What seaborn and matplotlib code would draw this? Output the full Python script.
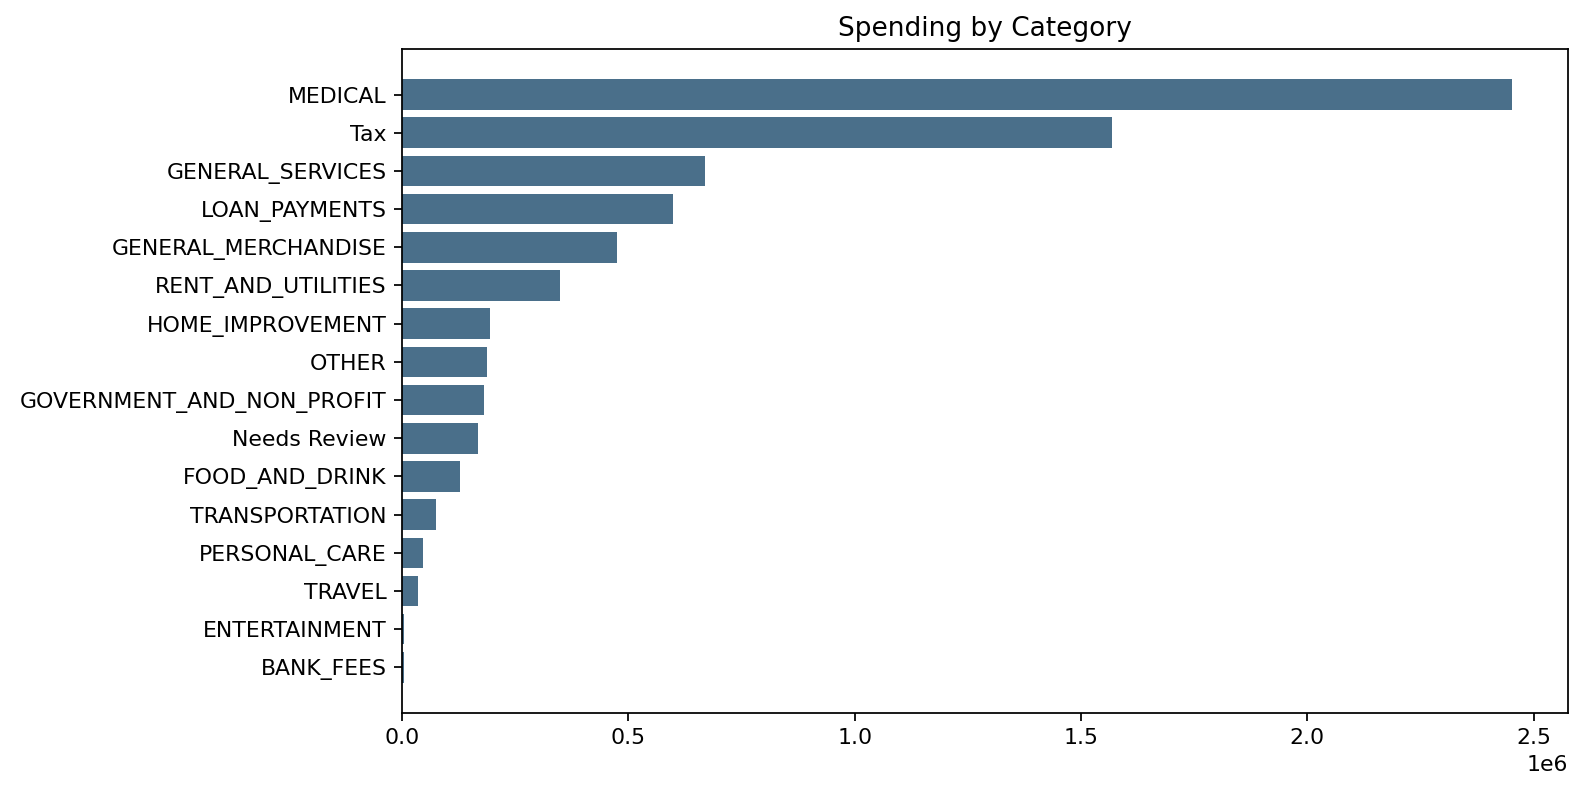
import matplotlib
matplotlib.use("Agg")
import matplotlib.pyplot as plt
import seaborn as sns

# Spending per category (values in dollars)
categories = [
    "MEDICAL", "Tax", "GENERAL_SERVICES", "LOAN_PAYMENTS", "GENERAL_MERCHANDISE",
    "RENT_AND_UTILITIES", "HOME_IMPROVEMENT", "OTHER", "GOVERNMENT_AND_NON_PROFIT",
    "Needs Review", "FOOD_AND_DRINK", "TRANSPORTATION", "PERSONAL_CARE", "TRAVEL",
    "ENTERTAINMENT", "BANK_FEES",
]
amounts = [
    2453000, 1569000, 670000, 599000, 475000,
    349000, 195000, 188000, 181000,
    168000, 128000, 75000, 46000, 35000,
    4000, 3500,
]

fig, ax = plt.subplots(figsize=(1583 / 158.3, 792 / 158.3), dpi=158.3)
fig.subplots_adjust(left=0.254, right=0.9905, top=0.938, bottom=0.100)

sns.barplot(x=amounts, y=categories, orient="h", color="#4a6f8a",
            saturation=1, width=0.8, ax=ax)

# matplotlib-like margins around the bars
n = len(categories)
pad = 0.05 * (n - 1 + 0.8)
ax.set_ylim(n - 1 + 0.4 + pad, -0.4 - pad)
ax.set_xlim(0, max(amounts) * 1.05)

ax.set_title("Spending by Category")
ax.set_xlabel("")
ax.set_ylabel("")

fig.savefig("out.png", dpi=158.3)
